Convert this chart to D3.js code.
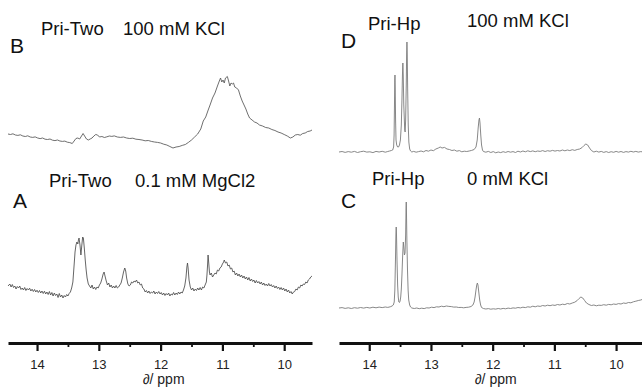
<!DOCTYPE html>
<html><head><meta charset="utf-8">
<script src="https://cdn.jsdelivr.net/npm/d3@7"></script>
<style>
html,body{margin:0;padding:0;background:#fff;}
svg{display:block;font-family:"Liberation Sans",Arial,sans-serif;}
</style></head>
<body>
<svg id="c" width="642" height="390"></svg>
<script>
// ---- data: [chemical shift (ppm), intensity] ----
const majorTicks = [14, 13, 12, 11, 10];
const minorTicks = [13.5, 12.5, 11.5, 10.5];
const axisTitle = "∂/ ppm";

const panelB = [[14.47,16],[14.43,15.5],[14.39,16.2],[14.35,15],[14.31,14.6],[14.27,15.2],[14.23,14],[14.19,13.5],[14.15,14.2],[14.11,13],[14.07,12.6],[14.03,13.1],[13.99,12],[13.95,11.4],[13.91,12],[13.87,10.8],[13.83,10.5],[13.79,11],[13.75,9.8],[13.71,9.4],[13.67,10],[13.63,9],[13.59,8.6],[13.55,8.9],[13.51,7.8],[13.47,7.4],[13.43,6.5],[13.40,9],[13.37,11.5],[13.34,12],[13.31,11],[13.28,14],[13.255,16.5],[13.23,14],[13.20,11],[13.17,10],[13.14,11],[13.11,12],[13.08,14],[13.05,15.5],[13.02,15],[12.99,13],[12.95,13.5],[12.91,12.5],[12.87,13.2],[12.83,14],[12.79,13.6],[12.75,14.1],[12.70,13],[12.65,12.6],[12.60,13],[12.55,12],[12.50,11.5],[12.45,11.8],[12.40,10.8],[12.35,10.5],[12.30,10],[12.25,9.2],[12.20,9.5],[12.15,8.6],[12.10,8],[12.05,7.6],[12.00,7],[11.95,5.8],[11.90,5],[11.85,3.5],[11.80,2],[11.75,3],[11.70,3.5],[11.65,4.6],[11.60,5.5],[11.55,7.6],[11.50,10],[11.45,13],[11.40,16],[11.35,21],[11.31,29],[11.27,33],[11.23,40],[11.20,45],[11.16,52],[11.12,57],[11.08,64],[11.05,69],[11.03,72],[11.01,68],[10.99,70],[10.97,67],[10.95,72],[10.92,73.5],[10.90,69],[10.88,64],[10.86,67],[10.84,66],[10.82,67],[10.80,63],[10.77,62],[10.74,60],[10.71,54],[10.68,49],[10.65,45],[10.62,41],[10.59,36],[10.56,32],[10.52,30],[10.48,28],[10.44,27],[10.40,25],[10.35,24],[10.30,22.5],[10.25,22],[10.20,20.5],[10.15,19.5],[10.10,18],[10.05,17],[10.00,15.5],[9.95,14],[9.90,12],[9.86,13],[9.82,15],[9.78,15.5],[9.74,14.8],[9.70,16.5],[9.66,17],[9.62,18.5],[9.58,19],[9.55,20]];

const panelA = [[14.47,14],[14.44,16],[14.42,13],[14.40,15.5],[14.38,12.5],[14.36,14],[14.34,11],[14.32,13.5],[14.30,12],[14.28,14],[14.26,10.5],[14.24,12],[14.22,10],[14.20,12.5],[14.18,9.5],[14.16,11.5],[14.14,10],[14.12,11.8],[14.10,9],[14.08,10.8],[14.06,8.5],[14.04,10.5],[14.02,8],[14.00,9.8],[13.98,7.5],[13.96,9.5],[13.94,7],[13.92,9],[13.90,6.5],[13.88,8.8],[13.86,6],[13.84,8],[13.82,5.5],[13.80,8.5],[13.78,5],[13.76,7.5],[13.74,4],[13.72,7],[13.70,4.5],[13.68,6],[13.66,2.5],[13.64,6.5],[13.62,3],[13.60,5],[13.58,2],[13.56,4.5],[13.54,3],[13.52,5.5],[13.50,4],[13.48,6.5],[13.46,8],[13.44,12],[13.42,18],[13.40,35],[13.385,48],[13.37,55],[13.355,58],[13.34,56],[13.33,60],[13.32,62],[13.305,55],[13.29,45],[13.275,55],[13.262,63],[13.25,62],[13.235,52],[13.22,40],[13.205,30],[13.19,22],[13.17,16],[13.15,14],[13.13,12],[13.11,15],[13.09,11],[13.07,13],[13.05,10.5],[13.03,13],[13.01,12],[12.99,15],[12.97,17],[12.95,21],[12.93,26],[12.915,28],[12.90,24],[12.88,19],[12.86,15],[12.84,17],[12.82,13],[12.80,15],[12.78,12],[12.76,14],[12.74,12],[12.72,14.5],[12.70,12],[12.68,13],[12.66,15],[12.64,17],[12.62,22],[12.60,28],[12.58,32],[12.565,29],[12.55,22],[12.53,16],[12.51,14],[12.49,15],[12.47,18],[12.45,17],[12.43,19],[12.41,18],[12.39,20],[12.37,17],[12.35,18],[12.33,15],[12.31,16],[12.29,12],[12.27,11],[12.25,8],[12.23,9.5],[12.21,7],[12.19,9],[12.17,6.5],[12.15,8],[12.13,7],[12.11,9],[12.09,6],[12.07,8],[12.05,6.5],[12.03,8.5],[12.01,6],[11.99,7.5],[11.97,5],[11.95,7],[11.93,4.5],[11.91,6.5],[11.89,5],[11.87,7],[11.85,4],[11.83,6],[11.81,5],[11.79,7.5],[11.77,5],[11.75,7],[11.73,5.5],[11.71,8],[11.69,6],[11.67,8],[11.65,7],[11.63,10],[11.61,14],[11.59,22],[11.575,33],[11.565,37],[11.555,32],[11.54,20],[11.52,13],[11.50,10],[11.48,12],[11.46,9],[11.44,11],[11.42,9.5],[11.40,12],[11.38,10],[11.36,12.5],[11.34,10],[11.32,13],[11.30,12],[11.28,15],[11.26,18],[11.25,25],[11.24,35],[11.232,45],[11.22,36],[11.21,28],[11.20,25],[11.18,27],[11.16,23],[11.14,25],[11.12,27],[11.10,26],[11.08,30],[11.06,29],[11.04,32],[11.02,33],[11.00,36],[10.98,38],[10.97,40],[10.95,37],[10.93,38],[10.91,34],[10.89,35],[10.87,31],[10.85,32],[10.83,28],[10.81,29],[10.79,25],[10.77,27],[10.75,24],[10.73,26],[10.71,23],[10.69,25],[10.67,22],[10.65,24],[10.63,21],[10.61,23],[10.59,20],[10.57,22.5],[10.55,19],[10.53,21],[10.51,18.5],[10.49,20],[10.47,17],[10.45,19.5],[10.43,17],[10.41,18.5],[10.39,16],[10.37,18],[10.35,15],[10.33,17],[10.31,14.5],[10.29,16],[10.27,14],[10.25,16.5],[10.23,14],[10.21,15.5],[10.19,13],[10.17,14.5],[10.15,12],[10.13,14],[10.11,11.5],[10.09,13],[10.07,10.5],[10.05,12.5],[10.03,10],[10.01,12],[9.99,9],[9.97,11],[9.95,8],[9.93,10],[9.91,7],[9.89,8.5],[9.87,6],[9.85,8],[9.83,8.5],[9.81,11],[9.79,10],[9.77,13],[9.75,12],[9.73,15],[9.71,14],[9.69,16],[9.67,15.5],[9.65,18],[9.63,17],[9.61,20],[9.59,21],[9.57,23],[9.55,24]];

const panelD = [[14.49,8],[14.44,8.5],[14.39,7.6],[14.34,8.4],[14.29,7.8],[14.24,8.6],[14.19,7.5],[14.14,8.3],[14.09,8.8],[14.04,7.9],[13.99,8.2],[13.94,7.4],[13.89,8.6],[13.84,8],[13.79,8.7],[13.74,7.8],[13.70,8.5],[13.67,9],[13.64,9.5],[13.62,10],[13.605,13],[13.597,25],[13.59,60],[13.586,80],[13.583,85],[13.579,72],[13.573,40],[13.566,20],[13.555,15],[13.54,13],[13.525,13],[13.51,15],[13.495,20],[13.48,35],[13.47,60],[13.462,85],[13.455,97],[13.449,85],[13.44,55],[13.425,30],[13.418,28],[13.41,40],[13.40,75],[13.394,105],[13.389,118],[13.384,105],[13.377,70],[13.368,35],[13.358,18],[13.345,11],[13.33,9],[13.31,8],[13.28,8.6],[13.24,7.8],[13.20,8.4],[13.16,9],[13.12,8.2],[13.08,9.5],[13.04,8.8],[13.00,10],[12.96,9.3],[12.92,11],[12.88,12],[12.85,13],[12.82,12],[12.78,12.6],[12.74,11],[12.70,10.5],[12.66,9.5],[12.62,10],[12.58,8.8],[12.54,9.4],[12.50,8.2],[12.46,8.8],[12.42,8.5],[12.38,9],[12.34,9.6],[12.30,10.5],[12.27,13],[12.25,20],[12.235,32],[12.222,40],[12.214,42],[12.205,37],[12.193,25],[12.18,15],[12.165,10],[12.15,8.5],[12.11,7.8],[12.07,8.6],[12.03,7.5],[11.99,8.4],[11.95,7.2],[11.91,8],[11.87,7.4],[11.83,8.3],[11.79,7.6],[11.75,8.5],[11.71,7.8],[11.67,8.4],[11.63,7.5],[11.59,8.8],[11.55,8],[11.51,9],[11.47,8.2],[11.43,9.2],[11.39,8.4],[11.35,9.1],[11.31,8.3],[11.27,9],[11.23,8.6],[11.19,9.4],[11.15,8.5],[11.11,9.3],[11.07,8.8],[11.03,9.6],[10.99,8.9],[10.95,9.5],[10.91,9],[10.87,10],[10.83,9.2],[10.79,10],[10.75,9.4],[10.71,10.3],[10.67,9.6],[10.63,10.5],[10.59,11],[10.55,12.5],[10.52,14.5],[10.49,16],[10.46,15],[10.43,12],[10.40,9.5],[10.36,8],[10.32,8.8],[10.28,7.9],[10.24,8.6],[10.20,7.6],[10.16,8.4],[10.12,7.5],[10.08,8.3],[10.04,7.7],[10.00,8.6],[9.96,7.8],[9.92,8.5],[9.88,7.6],[9.84,8.4],[9.80,7.9],[9.76,8.7],[9.72,8],[9.68,8.6],[9.64,7.9],[9.60,8.4],[9.58,8.2]];

const panelC = [[14.49,7],[14.44,7.4],[14.39,6.6],[14.34,7.2],[14.29,6.5],[14.24,7.3],[14.19,6.8],[14.14,7.5],[14.09,6.9],[14.04,7.6],[13.99,7],[13.94,7.8],[13.89,7.2],[13.84,7.9],[13.79,7.4],[13.74,8],[13.70,7.6],[13.66,8.2],[13.63,9],[13.61,10],[13.595,13],[13.585,25],[13.575,55],[13.568,80],[13.563,88],[13.558,80],[13.55,55],[13.54,30],[13.53,18],[13.52,13],[13.51,12.5],[13.50,14],[13.49,18],[13.48,26],[13.47,40],[13.458,60],[13.448,73],[13.44,68],[13.43,60],[13.42,62],[13.41,80],[13.404,105],[13.400,113],[13.396,100],[13.39,75],[13.38,45],[13.37,25],[13.36,15],[13.345,10],[13.33,8],[13.31,7],[13.27,6.5],[13.23,7],[13.19,6.3],[13.15,6.8],[13.11,6.4],[13.07,7.2],[13.03,7],[12.99,7.8],[12.95,7.4],[12.91,8.2],[12.87,8],[12.83,8.8],[12.79,8.3],[12.75,9],[12.71,8.6],[12.67,8.4],[12.63,7.9],[12.59,8],[12.55,7.5],[12.51,7.6],[12.47,7.2],[12.43,7.6],[12.39,7.8],[12.35,8.5],[12.32,10],[12.30,13],[12.285,18],[12.27,25],[12.258,30],[12.248,32],[12.238,30],[12.225,23],[12.21,15],[12.195,10],[12.18,7.5],[12.15,6.5],[12.11,6],[12.07,6.4],[12.03,5.8],[11.99,6.2],[11.95,5.9],[11.91,6.5],[11.87,6],[11.83,6.6],[11.79,6.2],[11.75,6.9],[11.71,6.5],[11.67,7.1],[11.63,6.8],[11.59,7.5],[11.55,7.1],[11.51,7.8],[11.47,7.4],[11.43,8.2],[11.39,7.8],[11.35,8.8],[11.31,8.2],[11.27,9],[11.23,8.6],[11.19,9.5],[11.15,9],[11.11,9.8],[11.07,9.3],[11.03,10],[10.99,9.6],[10.95,10.5],[10.91,10],[10.87,10.8],[10.83,10.4],[10.79,11.5],[10.75,11],[10.71,12],[10.67,12.8],[10.63,14.5],[10.60,16.5],[10.57,18],[10.54,17],[10.51,14.5],[10.48,12],[10.44,10.5],[10.40,9.5],[10.36,10],[10.32,9.2],[10.28,9.8],[10.24,9.6],[10.20,10.3],[10.16,9.8],[10.12,10.6],[10.08,10.2],[10.04,11],[10.00,10.6],[9.96,11.4],[9.92,11],[9.88,12],[9.84,11.6],[9.80,12.5],[9.76,12.2],[9.72,13.2],[9.68,13.8],[9.64,14.5],[9.60,15],[9.58,15.5]];

const panelLetters = ["B", "A", "D", "C"];
const panelSamples = ["Pri-Two", "Pri-Two", "Pri-Hp", "Pri-Hp"];
const panelConditions = ["100 mM KCl", "0.1 mM MgCl2", "100 mM KCl", "0 mM KCl"];

// ---- drawing ----
const svg = d3.select("#c");

const xLeft = d3.scaleLinear().domain([14.47, 9.55]).range([8, 312]);
const xRight = d3.scaleLinear().domain([14.49, 9.58]).range([339, 642]);

const panels = [
  {data: panelB, x: xLeft,  y: d3.scaleLinear().domain([0, 100]).range([150, 50]),  color: "#555", w: 0.85,
   letter: [10, 53], sample: [41, 35], cond: [123, 35]},
  {data: panelA, x: xLeft,  y: d3.scaleLinear().domain([0, 100]).range([300, 200]), color: "#4a4a4a", w: 0.85,
   letter: [13, 208], sample: [49, 187], cond: [135, 187]},
  {data: panelD, x: xRight, y: d3.scaleLinear().domain([0, 100]).range([160, 60]),  color: "#7a7a7a", w: 0.9,
   letter: [341, 48], sample: [368, 30], cond: [467, 27]},
  {data: panelC, x: xRight, y: d3.scaleLinear().domain([0, 100]).range([315, 215]), color: "#7a7a7a", w: 0.9,
   letter: [341, 208], sample: [372, 185], cond: [467, 185]}
];

panels.forEach((p, i) => {
  const line = d3.line().x(d => p.x(d[0])).y(d => p.y(d[1])).curve(d3.curveLinear);
  svg.append("path").datum(p.data)
    .attr("d", line)
    .attr("fill", "none")
    .attr("stroke", p.color)
    .attr("stroke-width", p.w)
    .attr("stroke-linejoin", "round");
  svg.append("text").attr("x", p.letter[0]).attr("y", p.letter[1])
    .attr("font-size", 21).attr("fill", "#111").text(panelLetters[i]);
  svg.append("text").attr("x", p.sample[0]).attr("y", p.sample[1])
    .attr("font-size", 18.5).attr("fill", "#111").text(panelSamples[i]);
  svg.append("text").attr("x", p.cond[0]).attr("y", p.cond[1])
    .attr("font-size", 18.5).attr("fill", "#111").text(panelConditions[i]);
});

// axes
[{x: xLeft}, {x: xRight}].forEach(a => {
  const g = svg.append("g").attr("transform", "translate(0,343)");
  g.call(d3.axisBottom(a.x).tickValues(majorTicks).tickSize(8).tickSizeOuter(0).tickPadding(9)
      .tickFormat(d3.format("d")));
  g.select(".domain").attr("stroke", "#111").attr("stroke-width", 3);
  g.selectAll(".tick line").attr("stroke", "#111").attr("stroke-width", 2.2);
  g.selectAll(".tick text").attr("font-size", 13).attr("fill", "#222")
    .attr("font-family", "'Liberation Sans', Arial, sans-serif");
  const gm = svg.append("g").attr("transform", "translate(0,343)");
  gm.call(d3.axisBottom(a.x).tickValues(minorTicks).tickSize(4).tickSizeOuter(0).tickFormat(""));
  gm.select(".domain").remove();
  gm.selectAll(".tick line").attr("stroke", "#111").attr("stroke-width", 1.8);
  svg.append("text")
    .attr("x", a.x(12) + 3).attr("y", 384)
    .attr("text-anchor", "middle")
    .attr("font-size", 14).attr("fill", "#222")
    .text(axisTitle);
});
</script>
</body></html>
